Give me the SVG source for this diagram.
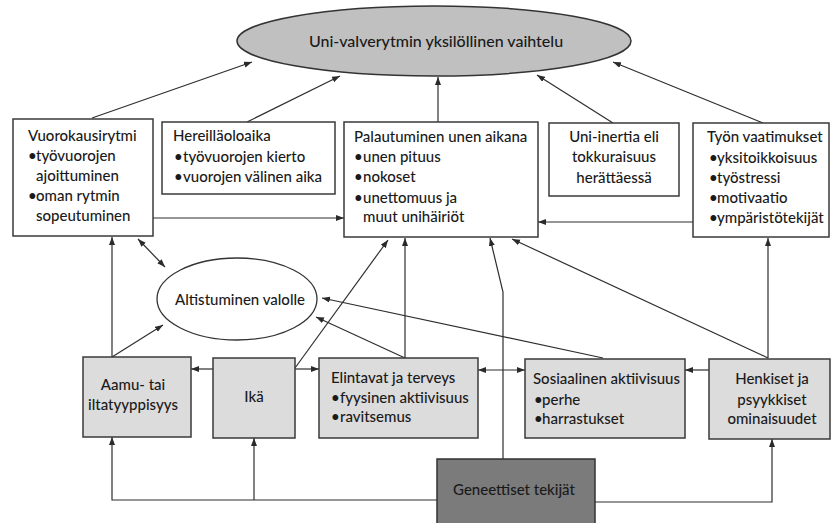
<svg xmlns="http://www.w3.org/2000/svg" width="832" height="523" viewBox="0 0 832 523">
<defs>
<marker id="ah" markerUnits="userSpaceOnUse" markerWidth="9" markerHeight="7" refX="8" refY="3" orient="auto-start-reverse">
<path d="M0,0 L8,3 L0,6 z" fill="#2a2a2a"/>
</marker>
<style>
text{font-family:Lato,"Open Sans","Liberation Sans",sans-serif;font-size:15px;font-weight:500;fill:#1a1a1a}
.box{fill:#fff;stroke:#3a3a3a;stroke-width:1.5}
.lbox{fill:#dcdcdc;stroke:#3a3a3a;stroke-width:1.5}
.dbox{fill:#7b7b7b;stroke:#333;stroke-width:1.5}
.c{text-anchor:middle}
#connectors path{fill:none;stroke:#2e2e2e;stroke-width:1.2;marker-end:url(#ah)}
#connectors path.both{marker-start:url(#ah)}
</style>
</defs>
<rect width="832" height="523" fill="#fff"/>

<g id="connectors">
<path d="M92,118 L252,62"/>
<path d="M247,122 L340,76"/>
<path d="M438,122 L438,77"/>
<path d="M613,123 L537,75"/>
<path d="M763,123 L613,62"/>
<path d="M153,218 L344,218"/>
<path d="M693,222 L538,222"/>
<path d="M112,357 L112,237"/>
<path class="both" d="M138,239 L165,267"/>
<path d="M112,357 L163,325"/>
<path d="M295,368 L388,240"/>
<path d="M213,369 L191,369"/>
<path d="M295,369 L319,369"/>
<path d="M405,358 L405,238"/>
<path d="M405,358 L316,317"/>
<path class="both" d="M478,370 L525,370"/>
<path d="M503,459 L503,292 L490,238"/>
<path d="M603,358 L322,298"/>
<path d="M768,358 L768,238"/>
<path d="M768,358 L512,239"/>
<path d="M709,370 L685,370"/>
<path d="M595,502 L772,502 L772,439"/>
<path d="M437,500 L112,500 L112,437"/>
<path d="M254,500 L254,438"/>
</g>

<g id="n-main">
<ellipse cx="434" cy="41" rx="197" ry="35" fill="#c0c0c0" stroke="#333" stroke-width="1.5"/>
<text class="c" x="436" y="47" style="font-size:16px">Uni-valverytmin yksilöllinen vaihtelu</text>
</g>

<g id="n-vuorokausi">
<rect class="box" x="13" y="119" width="140" height="117"/>
<text x="28" y="141">Vuorokausirytmi</text>
<text x="28" y="161">•</text><text x="36" y="161">työvuorojen</text>
<text x="36" y="181">ajoittuminen</text>
<text x="28" y="201">•</text><text x="36" y="201">oman rytmin</text>
<text x="36" y="221">sopeutuminen</text>
</g>

<g id="n-hereilla">
<rect class="box" x="162" y="122" width="173" height="72"/>
<text x="173" y="141">Hereilläoloaika</text>
<text x="174" y="162">•</text><text x="183" y="162">työvuorojen kierto</text>
<text x="174" y="182">•</text><text x="183" y="182">vuorojen välinen aika</text>
</g>

<g id="n-palautuminen">
<rect class="box" x="344" y="122" width="194" height="115"/>
<text x="354" y="142">Palautuminen unen aikana</text>
<text x="354" y="162">•</text><text x="363" y="162">unen pituus</text>
<text x="354" y="182">•</text><text x="363" y="182">nokoset</text>
<text x="354" y="203">•</text><text x="363" y="203">unettomuus ja</text>
<text x="363" y="222">muut unihäiriöt</text>
</g>

<g id="n-inertia">
<rect class="box" x="549" y="123" width="130" height="73"/>
<text class="c" x="614" y="142">Uni-inertia eli</text>
<text class="c" x="614" y="162">tokkuraisuus</text>
<text class="c" x="614" y="183">herättäessä</text>
</g>

<g id="n-tyon">
<rect class="box" x="693" y="123" width="136" height="114"/>
<text x="707" y="142">Työn vaatimukset</text>
<text x="709" y="163">•</text><text x="717" y="163">yksitoikkoisuus</text>
<text x="709" y="183">•</text><text x="717" y="183">työstressi</text>
<text x="709" y="203">•</text><text x="717" y="203">motivaatio</text>
<text x="709" y="223">•</text><text x="717" y="223">ympäristötekijät</text>
</g>

<g id="n-altistuminen">
<ellipse cx="237" cy="299" rx="80" ry="41" fill="#fff" stroke="#333" stroke-width="1.3"/>
<text class="c" x="240" y="305">Altistuminen valolle</text>
</g>

<g id="n-aamu">
<rect class="lbox" x="83" y="357" width="108" height="80"/>
<text class="c" x="133" y="390">Aamu- tai</text>
<text class="c" x="133" y="410">iltatyyppisyys</text>
</g>

<g id="n-ika">
<rect class="lbox" x="213" y="358" width="82" height="80"/>
<text class="c" x="254" y="402">Ikä</text>
</g>

<g id="n-elintavat">
<rect class="lbox" x="319" y="358" width="159" height="80"/>
<text x="331" y="383">Elintavat ja terveys</text>
<text x="331" y="403">•</text><text x="340" y="403">fyysinen aktiivisuus</text>
<text x="331" y="422">•</text><text x="340" y="422">ravitsemus</text>
</g>

<g id="n-sosiaalinen">
<rect class="lbox" x="525" y="359" width="160" height="79"/>
<text x="533" y="384">Sosiaalinen aktiivisuus</text>
<text x="534" y="405">•</text><text x="542" y="405">perhe</text>
<text x="534" y="424">•</text><text x="542" y="424">harrastukset</text>
</g>

<g id="n-henkiset">
<rect class="lbox" x="709" y="359" width="121" height="80"/>
<text class="c" x="772" y="384">Henkiset ja</text>
<text class="c" x="772" y="405">psyykkiset</text>
<text class="c" x="772" y="424">ominaisuudet</text>
</g>

<g id="n-geneettiset">
<rect class="dbox" x="437" y="459" width="158" height="70"/>
<text class="c" x="514" y="495">Geneettiset tekijät</text>
</g>
</svg>
